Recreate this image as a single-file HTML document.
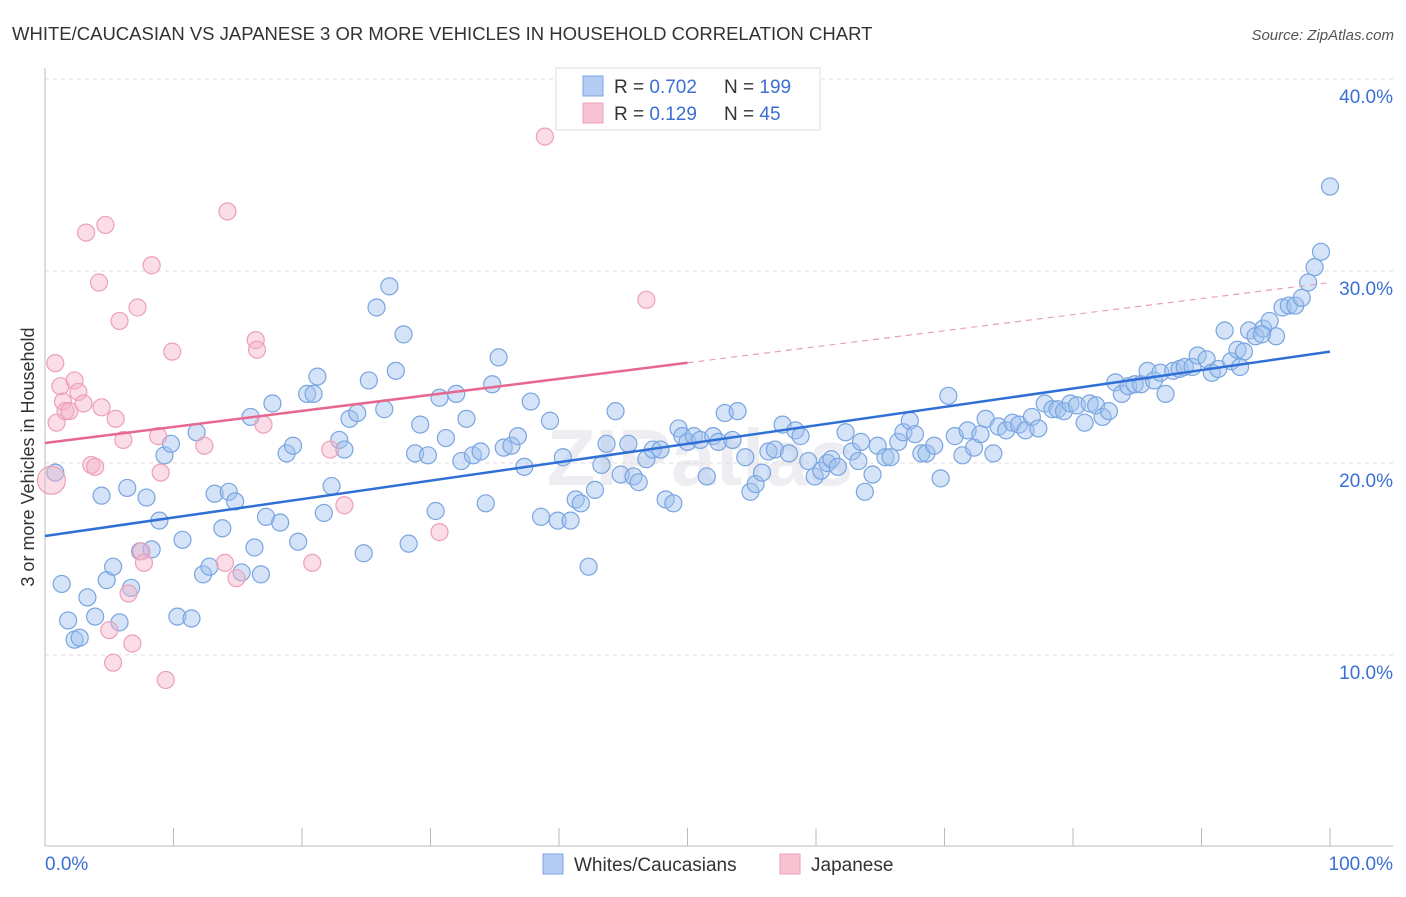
<!DOCTYPE html>
<html><head><meta charset="utf-8"><style>
body{margin:0;background:#fff;font-family:"Liberation Sans",sans-serif;}
svg text{font-family:"Liberation Sans",sans-serif;}
</style></head><body>
<svg id="chart" width="1406" height="892">
<text x="12" y="40" font-size="18.5" fill="#333">WHITE/CAUCASIAN VS JAPANESE 3 OR MORE VEHICLES IN HOUSEHOLD CORRELATION CHART</text>
<text x="1394" y="40" font-size="15" fill="#555" font-style="italic" text-anchor="end">Source: ZipAtlas.com</text>
<text transform="translate(34,457) rotate(-90)" font-size="18" fill="#333" text-anchor="middle">3 or more Vehicles in Household</text>
<text x="700" y="485" font-size="80" fill="#eeeef2" text-anchor="middle" font-weight="bold">ZIPatlas</text>
<g id="grid"></g><g id="marks"></g>
<g>
<rect x="556" y="68" width="264" height="62" fill="#fff" stroke="#ddd"/>
<rect x="583" y="76" width="20" height="20" fill="#b3cdf3" stroke="#7aa5e0"/>
<rect x="583" y="103" width="20" height="20" fill="#f8c3d3" stroke="#eda0b8"/>
<text x="614" y="93" font-size="19" fill="#333">R = <tspan fill="#3b6fd4">0.702</tspan></text>
<text x="724" y="93" font-size="19" fill="#333">N = <tspan fill="#3b6fd4">199</tspan></text>
<text x="614" y="120" font-size="19" fill="#333">R =  <tspan fill="#3b6fd4">0.129</tspan></text>
<text x="724" y="120" font-size="19" fill="#333">N =  <tspan fill="#3b6fd4">45</tspan></text>
</g>
<g>
<rect x="543" y="854" width="20" height="20" fill="#b3cdf3" stroke="#7aa5e0"/>
<text x="574" y="871" font-size="19" fill="#333">Whites/Caucasians</text>
<rect x="780" y="854" width="20" height="20" fill="#f8c3d3" stroke="#eda0b8"/>
<text x="811" y="871" font-size="19" fill="#333">Japanese</text>
</g>
</svg>
<script>
const yTicks=[10,20,30,40];
const yTickLabels=["10.0%","20.0%","30.0%","40.0%"];
const xTickLabels=["0.0%","100.0%"];
const blueX=[0.8,1.3,1.8,2.3,2.7,3.3,3.9,4.4,4.8,5.3,5.8,6.4,6.7,7.4,7.9,8.3,8.9,9.3,9.8,10.3,10.7,11.4,11.8,12.3,12.8,13.2,13.8,14.3,14.8,15.3,16.0,16.3,16.8,17.2,17.7,18.3,18.8,19.3,19.7,20.4,20.9,21.2,21.7,22.3,22.9,23.3,23.7,24.3,24.8,25.2,25.8,26.4,26.8,27.3,27.9,28.3,29.2,28.8,29.8,30.4,30.7,31.2,32.0,32.4,32.8,33.3,33.9,34.3,34.8,35.3,35.7,36.3,36.8,37.3,37.8,38.6,39.3,39.9,40.3,40.9,41.3,41.7,42.3,42.8,43.3,43.7,44.4,44.8,45.4,45.8,46.2,46.8,47.3,47.9,48.3,48.9,49.3,49.6,50.0,50.5,51.0,51.5,52.0,52.4,52.9,53.5,53.9,54.5,54.9,55.3,55.8,56.3,56.8,57.4,57.9,58.4,58.8,59.4,59.9,60.4,60.9,61.2,61.7,62.3,62.8,63.3,63.8,64.4,64.8,65.4,65.8,66.4,66.8,67.3,67.7,68.2,68.6,69.2,69.7,70.3,70.8,71.4,71.8,72.3,72.8,73.2,73.8,74.2,74.8,75.3,75.8,76.3,76.8,77.3,77.8,78.4,78.8,79.3,79.8,80.3,80.9,81.3,81.8,82.3,82.8,83.3,83.8,84.3,84.8,85.3,85.8,86.3,86.8,87.2,87.8,88.3,88.7,89.3,89.7,90.4,90.8,91.3,91.8,92.3,92.8,93.3,93.7,94.2,94.8,95.3,95.8,96.3,96.8,97.3,97.8,98.3,98.8,99.3,100,63.5,94.7,93.0];
const blueY=[19.5,13.7,11.8,10.8,10.9,13.0,12.0,18.3,13.9,14.6,11.7,18.7,13.5,15.4,18.2,15.5,17.0,20.4,21.0,12.0,16.0,11.9,21.6,14.2,14.6,18.4,16.6,18.5,18.0,14.3,22.4,15.6,14.2,17.2,23.1,16.9,20.5,20.9,15.9,23.6,23.6,24.5,17.4,18.8,21.2,20.7,22.3,22.6,15.3,24.3,28.1,22.8,29.2,24.8,26.7,15.8,22.0,20.5,20.4,17.5,23.4,21.3,23.6,20.1,22.3,20.4,20.6,17.9,24.1,25.5,20.8,20.9,21.4,19.8,23.2,17.2,22.2,17.0,20.3,17.0,18.1,17.9,14.6,18.6,19.9,21.0,22.7,19.4,21.0,19.3,19.0,20.2,20.7,20.7,18.1,17.9,21.8,21.4,21.1,21.4,21.2,19.3,21.4,21.1,22.6,21.2,22.7,20.3,18.5,18.9,19.5,20.6,20.7,22.0,20.5,21.7,21.4,20.1,19.3,19.6,20.0,20.2,19.8,21.6,20.6,20.1,18.5,19.4,20.9,20.3,20.3,21.1,21.6,22.2,21.5,20.5,20.5,20.9,19.2,23.5,21.4,20.4,21.7,20.8,21.5,22.3,20.5,21.9,21.7,22.1,22.0,21.7,22.4,21.8,23.1,22.8,22.8,22.7,23.1,23.0,22.1,23.1,23.0,22.4,22.7,24.2,23.6,24.0,24.1,24.1,24.8,24.3,24.7,23.6,24.8,24.9,25.0,25.0,25.6,25.4,24.7,24.9,26.9,25.3,25.9,25.8,26.9,26.6,27.0,27.4,26.6,28.1,28.2,28.2,28.6,29.4,30.2,31.0,34.4,21.1,26.7,25.0];
const pinkX=[0.5,0.8,0.9,1.2,1.4,1.6,1.9,2.3,2.6,3.0,3.2,3.6,3.9,4.2,4.4,4.7,5.0,5.3,5.5,5.8,6.1,6.5,6.8,7.2,7.5,7.7,8.3,8.8,9.0,9.4,9.9,12.4,14.0,14.2,14.9,16.4,16.5,17.0,20.8,22.2,23.3,30.7,38.9,46.8];
const pinkY=[19.1,25.2,22.1,24.0,23.2,22.7,22.7,24.3,23.7,23.1,32.0,19.9,19.8,29.4,22.9,32.4,11.3,9.6,22.3,27.4,21.2,13.2,10.6,28.1,15.4,14.8,30.3,21.4,19.5,8.7,25.8,20.9,14.8,33.1,14.0,26.4,25.9,22.0,14.8,20.7,17.8,16.4,37.0,28.5];
const blueLine=[16.2,25.8];
const pinkLine=[21.04,29.4];

const NS="http://www.w3.org/2000/svg";
const X0=45,X1=1330,Y10=655,PY=19.2;
function sx(v){return X0+(X1-X0)*v/100;}
function sy(v){return Y10-(v-10)*PY;}
function mk(t,a,p){const e=document.createElementNS(NS,t);for(const k in a)e.setAttribute(k,a[k]);p.appendChild(e);return e;}
const grid=document.getElementById('grid'),marks=document.getElementById('marks');
yTicks.forEach((t,i)=>{
  const l=mk('line',{x1:45,x2:1393,y1:sy(t),y2:sy(t),stroke:'#ddd','stroke-dasharray':'4,4'},grid);
  
  
  const tx=mk('text',{x:1393,y:sy(t)+24,'font-size':19,fill:'#3b6fd4','text-anchor':'end'},grid);
  tx.textContent=yTickLabels[i];
  
  
});
const ax=mk('line',{x1:45,x2:1393,y1:846,y2:846,stroke:'#bbb'},grid);


const ay=mk('line',{x1:45,x2:45,y1:68,y2:846,stroke:'#bbb'},grid);


for(let i=0;i<=10;i++){
  const t=mk('line',{x1:sx(i*10),x2:sx(i*10),y1:828,y2:846,stroke:'#bbb'},grid);
  
  
}
const xl0=mk('text',{x:45,y:870,'font-size':19,fill:'#3b6fd4'},grid);xl0.textContent=xTickLabels[0];


const xl1=mk('text',{x:1393,y:870,'font-size':19,fill:'#3b6fd4','text-anchor':'end'},grid);xl1.textContent=xTickLabels[1];



blueX.forEach((x,i)=>{
  const c=mk('circle',{cx:sx(x),cy:sy(blueY[i]),r:8.5,fill:'rgba(160,192,240,0.45)',stroke:'#7aa5e0','stroke-width':1.2},marks);
  
  
});
pinkX.forEach((x,i)=>{
  const c=mk('circle',{cx:sx(x),cy:sy(pinkY[i]),r:i==0?14:8.5,fill:'rgba(245,180,200,0.45)',stroke:'#eda0b8','stroke-width':1.2},marks);
  
  
});
const bl=mk('line',{x1:sx(0),y1:sy(blueLine[0]),x2:sx(100),y2:sy(blueLine[1]),stroke:'#2f6fd6','stroke-width':2.5},marks);


const pm=pinkLine[0]+(pinkLine[1]-pinkLine[0])*0.5;
const pl=mk('line',{x1:sx(0),y1:sy(pinkLine[0]),x2:sx(50),y2:sy(pm),stroke:'#e8678f','stroke-width':2.5},marks);


const pd=mk('line',{x1:sx(50),y1:sy(pm),x2:sx(100),y2:sy(pinkLine[1]),stroke:'#e8a0b6','stroke-width':1.2,'stroke-dasharray':'6,5'},marks);


</script>
</body></html>
